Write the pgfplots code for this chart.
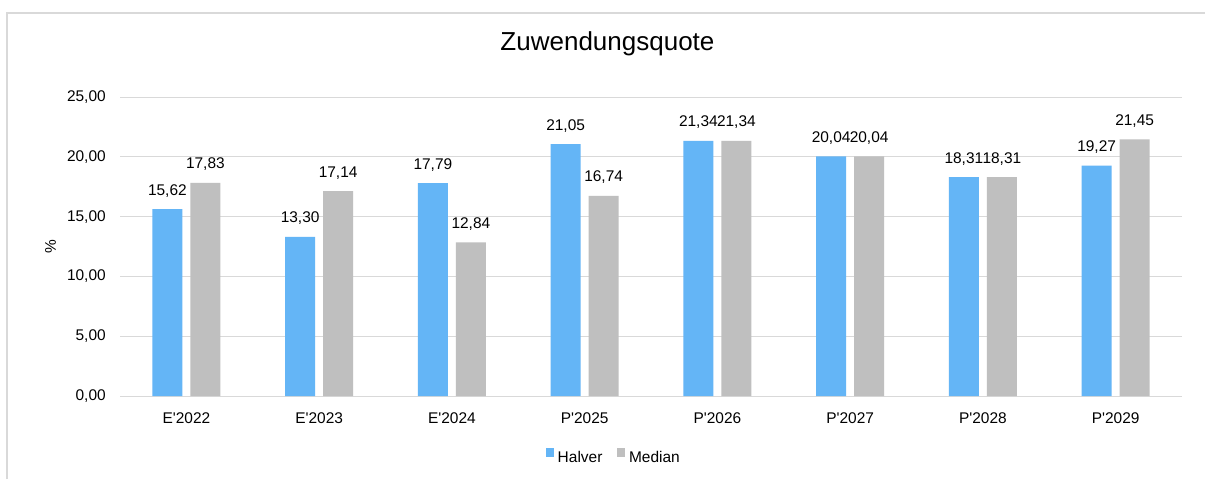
\documentclass[border=0pt]{standalone}
\usepackage{fontspec}
\setmainfont{Liberation Sans}
\usepackage{pgfplots}
\pgfplotsset{compat=1.18}
\definecolor{halver}{HTML}{64B5F6}
\definecolor{median}{HTML}{BFBFBF}
\definecolor{gridc}{HTML}{D9D9D9}
\begin{document}
\begin{tikzpicture}
\useasboundingbox (0pt,0pt) rectangle (903.75pt,359.25pt);
\fill[white] (0pt,0pt) rectangle (903.75pt,359.25pt);
\draw[gridc, line width=1pt] (5.25pt,0pt) -- (5.25pt,349.5pt) -- (903.75pt,349.5pt);
\begin{axis}[
  at={(90pt,62.25pt)}, anchor=south west,
  scale only axis,
  width=796.5pt, height=224.25pt,
  xmin=-0.5, xmax=7.5,
  ymin=0, ymax=25,
  ytick={0,5,10,15,20,25},
  xtick={0,1,2,3,4,5,6,7},
  xticklabels={E\textquotesingle 2022,E\textquotesingle 2023,E\textquotesingle 2024,P\textquotesingle 2025,P\textquotesingle 2026,P\textquotesingle 2027,P\textquotesingle 2028,P\textquotesingle 2029},
  axis line style={draw=none},
  tick style={draw=none},
  ymajorgrids,
  major grid style={gridc, line width=0.75pt},
  /pgf/number format/.cd, use comma, fixed, fixed zerofill, precision=2, 1000 sep={}, assume math mode=true,
  /pgfplots/.cd,
  ticklabel style={font=\fontsize{11.6pt}{13pt}\selectfont, inner sep=0pt},
  yticklabel style={xshift=-10.5pt},
  xticklabel style={yshift=-8.25pt},
  ybar, bar width=22.5pt,
  title={Zuwendungsquote},
  title style={font=\fontsize{19.5pt}{22pt}\selectfont, at={(0.459,1.1304)}, anchor=base, inner sep=0pt},
  ylabel={\%},
  ylabel style={font=\fontsize{11.6pt}{13pt}\selectfont, at={(-0.0653,0.5)}, anchor=center, inner sep=0pt},
  nodes near coords,
  every node near coord/.append style={font=\fontsize{11.6pt}{13pt}\selectfont, anchor=base, inner sep=0pt, yshift=10.5pt, text=black},
  legend style={at={(0.464,-0.2007)}, anchor=center, draw=none, fill=none, legend columns=-1,
    font=\fontsize{11.6pt}{13pt}\selectfont,
    nodes={inner sep=0pt, inner xsep=0pt},
    /tikz/every odd column/.append style={column sep=3pt},
    /tikz/every even column/.append style={column sep=11pt}},
  legend image code/.code={\fill[#1] (0pt,0.75pt) rectangle (6pt,7.5pt);},
]
\addplot[fill=halver, draw=none, bar shift=-14.25pt] coordinates {(0,15.62) (1,13.30) (2,17.79) (3,21.05) (4,21.34) (5,20.04) (6,18.31) (7,19.27)};
\addplot[fill=median, draw=none, bar shift=14.25pt] coordinates {(0,17.83) (1,17.14) (2,12.84) (3,16.74) (4,21.34) (5,20.04) (6,18.31) (7,21.45)};
\legend{Halver,Median}
\end{axis}
\end{tikzpicture}
\end{document}
